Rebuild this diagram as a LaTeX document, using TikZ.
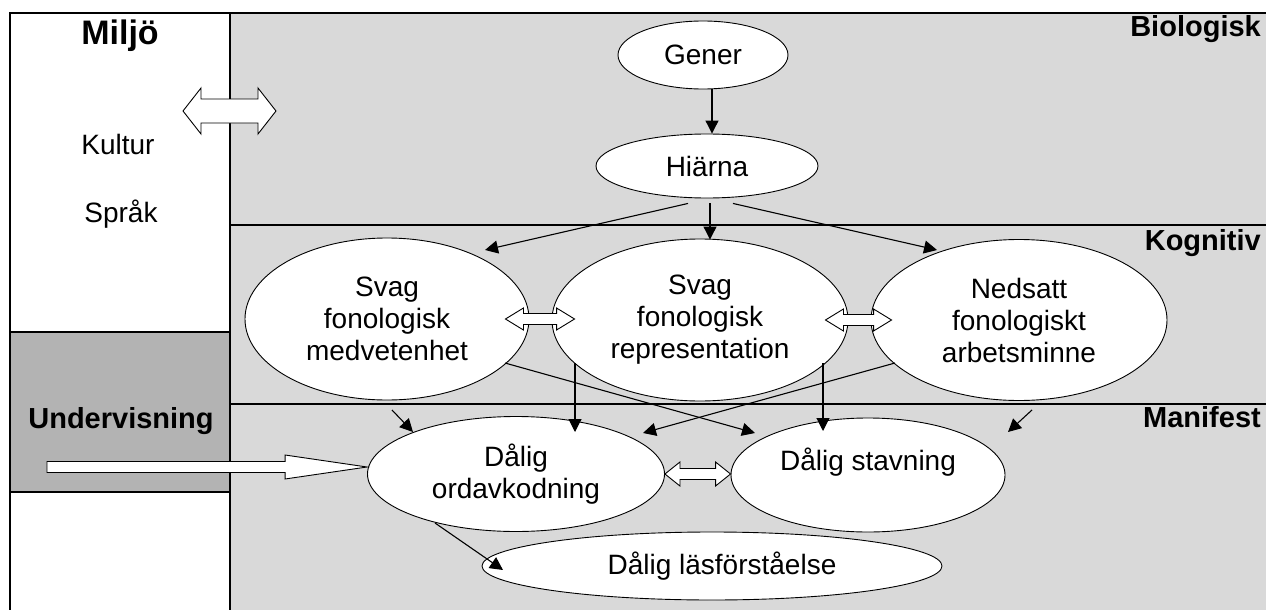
\documentclass[tikz,border=0pt]{standalone}
\usepackage{fontspec}
\setmainfont{Liberation Sans}
\usetikzlibrary{shapes.geometric,arrows.meta,calc}

\definecolor{panelgray}{RGB}{217,217,217}
\definecolor{teachgray}{RGB}{179,179,179}

% hollow double-headed horizontal arrow: #1 left tip, #2 right tip,
% #3 half shaft width, #4 half head width, #5 head length (all in pt)
\newcommand\hollowdouble[5]{%
  \draw[hollow] let \p1=#1, \p2=#2 in
    (\x1,\y1) -- (\x1+#5pt,\y1+#4pt) -- (\x1+#5pt,\y1+#3pt)
    -- (\x2-#5pt,\y1+#3pt) -- (\x2-#5pt,\y1+#4pt) -- (\x2,\y1)
    -- (\x2-#5pt,\y1-#4pt) -- (\x2-#5pt,\y1-#3pt)
    -- (\x1+#5pt,\y1-#3pt) -- (\x1+#5pt,\y1-#4pt) -- cycle;}
% hollow single-headed horizontal arrow: #1 tail, #2 tip
\newcommand\hollowsingle[5]{%
  \draw[hollow] let \p1=#1, \p2=#2 in
    (\x1,\y1+#3pt) -- (\x2-#5pt,\y1+#3pt) -- (\x2-#5pt,\y1+#4pt) -- (\x2,\y1)
    -- (\x2-#5pt,\y1-#4pt) -- (\x2-#5pt,\y1-#3pt) -- (\x1,\y1-#3pt) -- cycle;}

\tikzset{
  frameline/.style={line width=1.4pt},
  ell/.style={ellipse, draw, fill=white, line width=0.9pt, inner sep=0pt,
    align=center, font=\fontsize{28}{32}\selectfont},
  arr/.style={line width=1.1pt, -{Triangle[length=13pt,width=13pt]}},
  hollow/.style={fill=white, draw, line width=0.9pt, line join=miter},
  plain/.style={font=\fontsize{28}{32}\selectfont, inner sep=0pt},
  head/.style={font=\bfseries\fontsize{29}{32}\selectfont, inner sep=0pt},
}

\begin{document}
\begin{tikzpicture}[x=1pt,y=-1pt]
\useasboundingbox (0,0) rectangle (1266,610);

% panels
\fill[panelgray] (230,13) rectangle (1266,610);
\fill[teachgray] (10,332) rectangle (230,492);
\draw[frameline] (10,610) -- (10,13) -- (1266,13);
\draw[frameline] (230,13) -- (230,610);
\draw[frameline] (230,225) -- (1266,225);
\draw[frameline] (230,404) -- (1266,404);
\draw[frameline] (10,332) -- (230,332);
\draw[frameline] (10,492) -- (230,492);

% panel headings
\node[head, font=\bfseries\fontsize{34}{38}\selectfont, anchor=base] (miljo) at (120,45) {Miljö};
\node[plain, anchor=base] (kultur) at (118,154) {Kultur};
\node[plain, anchor=base] (sprak) at (121,222) {Språk};
\node[head, anchor=base east] (bio) at (1261,37) {Biologisk};
\node[head, anchor=base east] (kog) at (1261,250) {Kognitiv};
\node[head, anchor=base east] (man) at (1261,427) {Manifest};
\node[head, anchor=base] (und) at (121,428) {Undervisning};

% ellipses
\node[ell, minimum width=170, minimum height=68] (gen) at (703,55) {Gener};
\node[ell, minimum width=222, minimum height=64] (hja) at (707,166) {Hiärna};
\node[ell, minimum width=284, minimum height=162] (med) at (387,319) {Svag\\fonologisk\\medvetenhet};
\node[ell, minimum width=296, minimum height=162] (rep) at (700,320) {Svag\\fonologisk\\representation};
\node[ell, minimum width=296, minimum height=161] (ned) at (1019,320) {Nedsatt\\fonologiskt\\arbetsminne};
\node[ell, minimum width=297, minimum height=115] (ord) at (516,474) {Dålig\\ordavkodning};
\node[ell, minimum width=274, minimum height=114] (sta) at (868,475) {Dålig stavning\\\mbox{}};
\node[ell, minimum width=460, minimum height=68] (las) at (712,566) {\hspace*{20pt}Dålig läsförståelse};

% causal arrows
\draw[arr] ([shift={(9,0)}]gen.south) -- ([shift={(5,0)}]hja.north);
\draw[arr] ([shift={(-19,5)}]hja.south) -- ([shift={(98,-69)}]med.center);
\draw[arr] ([shift={(3,5)}]hja.south) -- ([shift={(10,1)}]rep.north);
\draw[arr] ([shift={(26,5)}]hja.south) -- ([shift={(-82,-70)}]ned.center);
\draw[arr] ([shift={(118,44)}]med.center) -- ([shift={(-113,-42)}]sta.center);
\draw[arr] ([shift={(-124,43)}]ned.center) -- ([shift={(127,-41)}]ord.center);
\draw[arr] ([shift={(-125,43)}]rep.center) -- ([shift={(59,-42)}]ord.center);
\draw[arr] ([shift={(123,43)}]rep.center) -- ([shift={(-45,-44)}]sta.center);
\coordinate (ordIn) at (392,410);
\coordinate (staIn) at (1032,410);
\draw[arr] (ordIn) -- ([shift={(-103,-42)}]ord.center);
\draw[arr] (staIn) -- ([shift={(140,-43)}]sta.center);
\draw[arr] ([shift={(-81,49)}]ord.center) -- ([shift={(-209,4)}]las.center);

% two-way links
\coordinate (envL) at (183,111);
\coordinate (envR) at (276,111);
\hollowdouble{(envL)}{(envR)}{12}{23}{18}
\hollowdouble{([shift={(-24,0)}]med.east)}{([shift={(23,0)}]rep.west)}{5.5}{11}{18}
\hollowdouble{([shift={(-23,0)}]rep.east)}{([shift={(21,0)}]ned.west)}{5.5}{11}{18}
\hollowdouble{(ord.east)}{(sta.west)}{5.5}{12}{15}

% teaching input
\coordinate (teachTail) at (47,467);
\coordinate (teachTip) at ([shift={(0,-6)}]ord.west);
\hollowsingle{(teachTail)}{(teachTip)}{5.5}{12}{82}
\end{tikzpicture}
\end{document}
